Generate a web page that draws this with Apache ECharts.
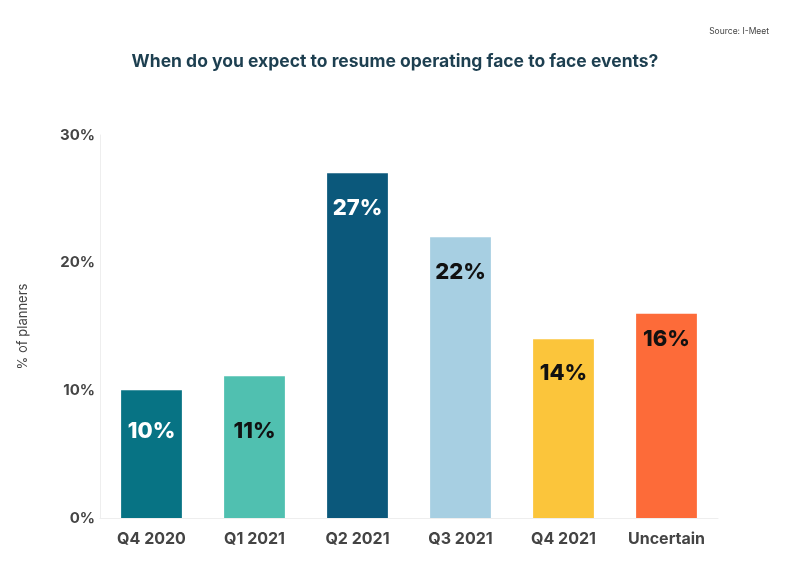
<!DOCTYPE html>
<html><head><meta charset="utf-8">
<script src="https://cdn.jsdelivr.net/npm/echarts@6/dist/echarts.min.js"></script>
<style>html,body{margin:0;padding:0;background:#fff}#c{width:790px;height:583px}</style>
</head><body><div id="c"></div>
<script>
var categories = ['Q4 2020', 'Q1 2021', 'Q2 2021', 'Q3 2021', 'Q4 2021', 'Uncertain'];
var values = [10, 11.1, 27, 22, 14, 16];
var valueLabels = ['10%', '11%', '27%', '22%', '14%', '16%'];
var yTicks = [0, 10, 20, 30];

var barColors = ['#077384', '#50c0b0', '#0b587b', '#a7cfe2', '#fbc53b', '#fd6b39'];
var labelColors = ['#ffffff', '#111111', '#ffffff', '#111111', '#111111', '#111111'];
var labelDist = [30, 44, 24, 24, 23, 15];
var FONT = 'Inter, "Noto Sans", sans-serif';

var chart = echarts.init(document.getElementById('c'), null, {renderer: 'canvas'});
chart.setOption({
  animation: false,
  backgroundColor: '#ffffff',
  title: [{
    text: 'When do you expect to resume operating face to face events?',
    left: 'center', top: 48,
    textStyle: {fontFamily: FONT, fontSize: 17.5, fontWeight: 700, color: '#1d3f50'}
  }, {
    text: 'Source: I-Meet',
    right: 16, top: 22,
    textStyle: {fontFamily: FONT, fontSize: 8.5, fontWeight: 400, color: '#444'}
  }],
  grid: {left: 100, right: 72, top: 135, bottom: 65, containLabel: false},
  xAxis: {
    type: 'category', data: categories,
    axisLine: {show: true, lineStyle: {color: '#eeeeee'}},
    axisTick: {show: false},
    axisLabel: {fontFamily: FONT, fontSize: 16, fontWeight: 700, color: '#444', margin: 13}
  },
  yAxis: {
    type: 'value', min: yTicks[0], max: yTicks[yTicks.length - 1], interval: 10,
    name: '% of planners', nameLocation: 'middle', nameGap: 70,
    nameTextStyle: {fontFamily: FONT, fontSize: 13, color: '#444'},
    axisLine: {show: true, lineStyle: {color: '#eeeeee'}},
    axisTick: {show: false},
    splitLine: {show: false},
    axisLabel: {fontFamily: FONT, fontSize: 15, fontWeight: 700, color: '#444', margin: 5,
      formatter: function (v) { return v + '%'; }}
  },
  series: [{
    type: 'bar',
    barCategoryGap: '41%',
    data: values.map(function (v, i) {
      return {
        value: v,
        itemStyle: {color: barColors[i]},
        label: {show: true, position: 'insideTop', distance: labelDist[i],
          formatter: valueLabels[i], color: labelColors[i],
          fontFamily: FONT, fontSize: 22, fontWeight: 800}
      };
    })
  }]
});
</script></body></html>
